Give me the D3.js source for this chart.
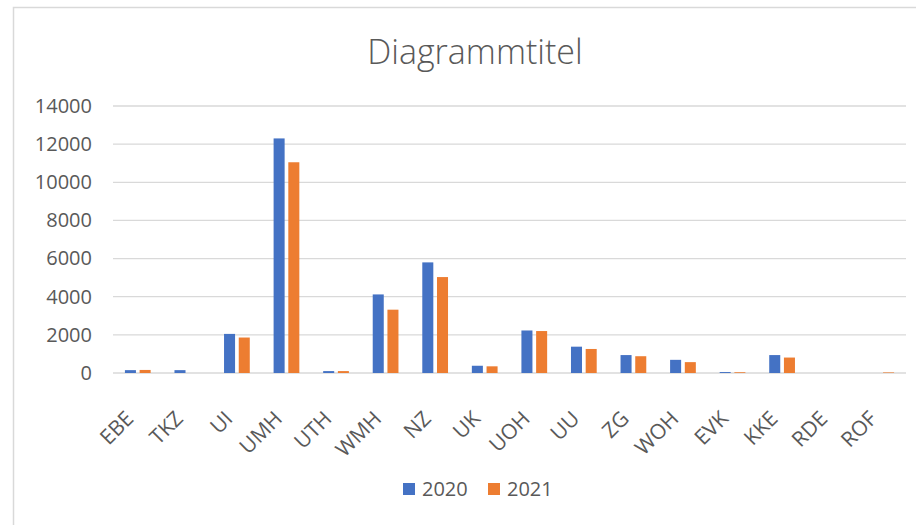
<!DOCTYPE html>
<html>
<head>
<meta charset="utf-8">
<script src="https://cdn.jsdelivr.net/npm/d3@7"></script>
<style>
  body { margin: 0; background: #fff; }
  svg { display: block; }
</style>
</head>
<body>
<script>
const categories = ["EBE", "TKZ", "UI", "UMH", "UTH", "WMH", "NZ", "UK", "UOH", "UU", "ZG", "WOH", "EVK", "KKE", "RDE", "ROF"];
const values2020 = [150, 150, 2050, 12300, 100, 4120, 5800, 380, 2230, 1380, 940, 690, 50, 940, 0, 0];
const values2021 = [160, 0, 1860, 11050, 100, 3320, 5030, 350, 2200, 1260, 880, 570, 40, 810, 0, 30];
const seriesNames = ["2020", "2021"];
const seriesColors = ["#4472C4", "#ED7D31"];
const yTicks = [0, 2000, 4000, 6000, 8000, 10000, 12000, 14000];

render();

function render() {
    const width = 916, height = 525;
    const margin = { top: 106, bottom: 152, left: 113, right: 10 };
    const textColor = "#595959";
    const font = "'Open Sans', 'Liberation Sans', sans-serif";

    const svg = d3.select("body").append("svg")
        .attr("width", width)
        .attr("height", height);

    // chart border (cut off at right/bottom like the screenshot)
    svg.append("rect")
        .attr("x", 13.5).attr("y", 7.5)
        .attr("width", 940).attr("height", 540)
        .attr("fill", "#fff")
        .attr("stroke", "#D9D9D9")
        .attr("stroke-width", 1.5);

    const innerHeight = height - margin.top - margin.bottom; // 0-line at y=373

    const data = categories.map((c, i) => ({ cat: c, vals: [values2020[i], values2021[i]] }));

    const x = d3.scaleBand()
        .domain(categories)
        .range([margin.left, 906])
        .padding(0);

    const x1 = d3.scaleBand()
        .domain(seriesNames)
        .range([0, x.bandwidth()])
        .paddingInner(0.25)
        .paddingOuter(0.81);

    const y = d3.scaleLinear()
        .domain([0, 14000])
        .range([margin.top + innerHeight, margin.top]);

    // title
    svg.append("text")
        .attr("x", 475)
        .attr("y", 64)
        .attr("text-anchor", "middle")
        .attr("font-family", font)
        .attr("font-weight", 300)
        .attr("font-size", 34)
        .attr("fill", textColor)
        .text("Diagrammtitel");

    // gridlines
    svg.append("g")
        .selectAll("line")
        .data(yTicks)
        .join("line")
        .attr("x1", margin.left)
        .attr("x2", 906)
        .attr("y1", d => y(d))
        .attr("y2", d => y(d))
        .attr("stroke", "#D9D9D9")
        .attr("stroke-width", 1.3);

    // y axis labels
    const yAxis = svg.append("g")
        .attr("transform", `translate(${margin.left},0)`)
        .call(d3.axisLeft(y).tickValues(yTicks).tickSize(0).tickPadding(21).tickFormat(d3.format("d")));
    yAxis.select(".domain").remove();
    yAxis.selectAll("text")
        .attr("font-family", font)
        .attr("font-size", 20)
        .attr("fill", textColor);

    // bars
    const groups = svg.append("g")
        .selectAll("g")
        .data(data)
        .join("g")
        .attr("transform", d => `translate(${x(d.cat)},0)`);

    groups.selectAll("rect")
        .data(d => d.vals.map((v, i) => ({ key: seriesNames[i], v, i })))
        .join("rect")
        .attr("x", d => x1(d.key))
        .attr("width", x1.bandwidth())
        .attr("y", d => y(d.v))
        .attr("height", d => y(0) - y(d.v))
        .attr("fill", d => seriesColors[d.i]);

    // x axis labels, rotated
    const xAxis = svg.append("g")
        .attr("transform", `translate(0,${y(0)})`)
        .call(d3.axisBottom(x).tickSize(0).tickPadding(0));
    xAxis.select(".domain").remove();
    xAxis.selectAll("text")
        .attr("font-family", font)
        .attr("font-size", 21)
        .attr("fill", textColor)
        .attr("text-anchor", "end")
        .attr("transform", "translate(-3,47) rotate(-45)")
        .attr("dy", "0");

    // legend
    const legend = svg.append("g")
        .attr("transform", "translate(403,483)");
    const items = legend.selectAll("g")
        .data(seriesNames)
        .join("g")
        .attr("transform", (d, i) => `translate(${i * 85},0)`);
    items.append("rect")
        .attr("width", 12)
        .attr("height", 12)
        .attr("fill", (d, i) => seriesColors[i]);
    items.append("text")
        .attr("x", 19)
        .attr("y", 13)
        .attr("font-family", font)
        .attr("font-size", 20)
        .attr("fill", textColor)
        .text(d => d);
}
</script>
</body>
</html>
